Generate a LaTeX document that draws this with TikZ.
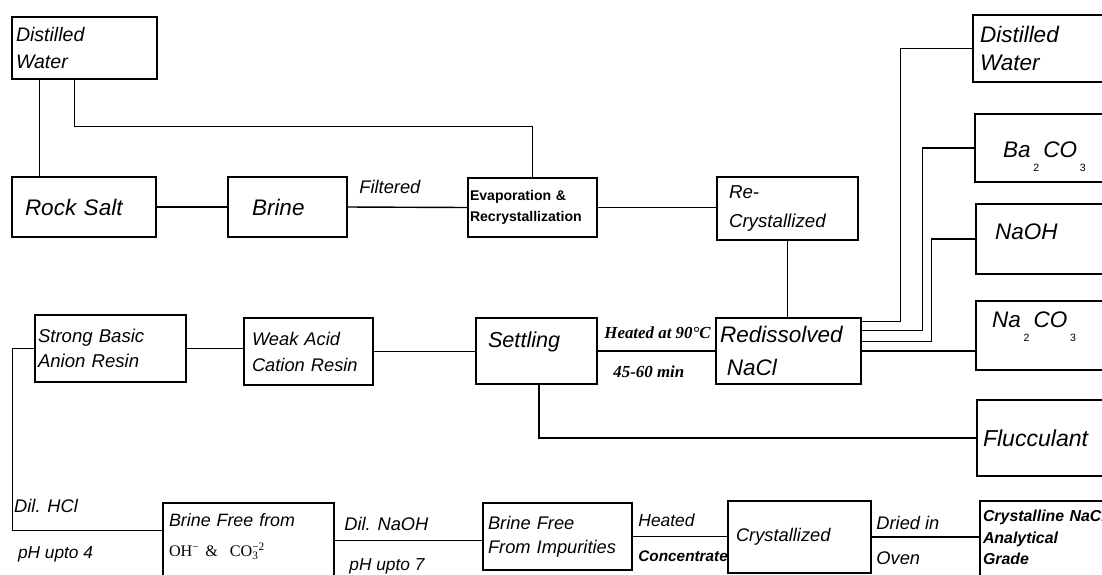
\documentclass[tikz,border=0pt]{standalone}
\usepackage{fontspec}
\setmainfont{Liberation Sans}
\newfontfamily\timesfont{Liberation Serif}
\usepackage{tikz}
\usetikzlibrary{positioning}
\newcommand\fsz[2]{\fontsize{#1}{#2}\selectfont}
\newcommand\lowsub[1]{\hspace{2pt}\raisebox{-9.5pt}{\upshape\fsz{7.5}{8}#1}\hspace{3pt}}
\tikzset{
  %% Process boxes
  procbox/.style={
    rectangle, draw=black, line width=1pt,
    align=left, inner ysep=0pt},
  %% box size in px: width, height, left indent of text
  wh/.style n args={3}{
    minimum height=#2*0.025cm,
    text width=(#1-2*#3)*0.025cm,
    inner xsep=#3*0.025cm},
  %% Labels on the connectors
  lbl/.style={anchor=base west, inner sep=0pt},
  %% Connectors
  conn/.style={line width=1pt, black},
}
\begin{document}
\begin{tikzpicture}[x=0.025cm, y=-0.025cm]
  \useasboundingbox (0,0) rectangle (1102,574);
  \clip (0,0) rectangle (1102,574);

  %% Top row
  \node[procbox, wh={145}{62}{4}, font=\fsz{13.9}{19}\itshape] (dwA) at (84.5,48)
        {Distilled\\Water};
  \node[procbox, wh={144}{60}{13}, font=\fsz{16}{19}\itshape] (rock) at (84,207)
        {Rock Salt};
  \node[procbox, wh={119}{60}{24}, font=\fsz{16}{19}\itshape] (brine) at (287.5,207)
        {Brine};
  \node[procbox, wh={129}{59}{2}, font=\fsz{10}{15}\bfseries] (evap) at (532.5,207.5)
        {Evaporation \&\\Recrystallization};
  \node[procbox, wh={141}{63}{12}, font=\fsz{13.3}{20.6}\itshape] (recry) at (787.5,208.5)
        {Re-\\Crystallized};

  %% Middle row
  \node[procbox, wh={151}{67}{3}, font=\fsz{13.2}{17.5}\itshape] (sba) at (110.5,348.5)
        {Strong Basic\\Anion Resin};
  \node[procbox, wh={129}{67}{8}, font=\fsz{13}{18.5}\itshape] (wac) at (308.5,351.5)
        {Weak Acid\\Cation Resin};
  \node[procbox, wh={121}{66}{12}, font=\fsz{15.4}{18}\itshape, text depth=15.6pt] (settle)
        at (536.5,351) {Settling};
  \node[procbox, wh={145}{66}{4}, font=\fsz{16}{23.5}\itshape] (redis) at (788.5,351)
        {Redissolved\\\hspace*{0.3em}NaCl};

  %% Additives (right column)
  \node[procbox, wh={157}{67}{7}, font=\fsz{16}{20}\itshape] (dwB) at (1051.5,48.5)
        {Distilled\\Water};
  \node[procbox, wh={155}{68}{28}, font=\fsz{16}{19}\itshape, text height=23.4pt] (baco)
        at (1052.5,148) {Ba\lowsub{2}CO\lowsub{3}};
  \node[procbox, wh={154}{70}{19}, font=\fsz{16}{19}\itshape, text depth=10pt] (naoh)
        at (1053,239) {NaOH};
  \node[procbox, wh={154}{69}{16}, font=\fsz{16}{19}\itshape, text depth=22pt] (naco)
        at (1053,335.5) {Na\lowsub{2}CO\lowsub{3}};
  \node[procbox, wh={153}{76}{6}, font=\fsz{16.4}{19}\itshape] (floc) at (1053.5,438)
        {Flucculant};

  %% Bottom row
  \node[procbox, wh={171}{87}{6}, font=\fsz{12.7}{21}\itshape, text depth=37pt] (bfree)
        at (248.5,546.5)
        {Brine Free from\\{\timesfont\upshape\fsz{11.5}{21}OH\textsuperscript{−} \&\ \ CO\rlap{\textsuperscript{−2}}\textsubscript{3}}};
  \node[procbox, wh={149}{67}{5}, font=\fsz{13}{17}\itshape] (bimp) at (557.5,536.5)
        {Brine Free\\From Impurities};
  \node[procbox, wh={143}{72}{8}, font=\fsz{13}{17}\itshape] (cryst) at (799.5,537)
        {Crystallized};
  \node[procbox, wh={150}{89}{3}, font=\fsz{11.3}{15.3}\bfseries\itshape, text depth=42pt]
        (grade) at (1055,545.5) {Crystalline NaCl\\Analytical\\Grade};

  %% Connectors, top row
  \draw[conn] ([xshift=0.7cm]dwA.south west) -- ([xshift=0.7cm]rock.north west);
  \draw[conn] ([xshift=1.575cm]dwA.south west) -- ++(0,47) -| (evap.north);
  \draw[conn] (rock.east) -- (brine.west);
  \draw[conn] (brine.east) -- node[lbl, pos=0, xshift=0.275cm, yshift=0.35cm,
        font=\fsz{13}{15}\itshape] {Filtered} (evap.west);
  \draw[conn] (evap.east) -- (evap.east -| recry.west);
  \draw[conn] (recry.south) -- (recry.south |- redis.north);

  %% Connectors, middle row
  \draw[conn] (sba.east) -- (sba.east -| wac.west);
  \draw[conn] (wac.east) -- (wac.east -| settle.west);
  \draw[conn] (settle.east) --
        node[lbl, pos=0, xshift=0.15cm, yshift=0.325cm,
             font=\timesfont\fsz{12}{14}\bfseries\itshape] {Heated at 90\textdegree C}
        node[lbl, pos=0, xshift=0.375cm, yshift=-0.65cm,
             font=\timesfont\fsz{12}{14}\bfseries\itshape] {45-60 min}
        (settle.east -| redis.west);
  \draw[conn] ([xshift=0.06cm]settle.south) |- (floc.west);

  %% Additives into the redissolved brine
  \draw[conn] ([yshift=-0.1cm]redis.north east) -- ++(39,0) |- (dwB.west);
  \draw[conn] ([yshift=-0.325cm]redis.north east) -- ++(61,0) |- (baco.west);
  \draw[conn] ([yshift=-0.6cm]redis.north east) -- ++(70,0) |- (naoh.west);
  \draw[conn] (redis.east) -- (redis.east -| naco.west);

  %% Connectors, bottom row
  \draw[conn] (sba.west) -- ++(-22,0) |-
        node[lbl, pos=0.5, xshift=0.03cm, yshift=0.45cm, font=\fsz{13}{15}\itshape] {Dil. HCl}
        node[lbl, pos=0.5, xshift=0.125cm, yshift=-0.7cm, font=\fsz{12.3}{15}\itshape] {pH upto 4}
        ([yshift=-0.7cm]bfree.north west);
  \draw[conn] ([yshift=-0.95cm]bfree.north east) --
        node[lbl, pos=0, xshift=0.225cm, yshift=0.25cm, font=\fsz{13}{15}\itshape] {Dil. NaOH}
        node[lbl, pos=0, xshift=0.35cm, yshift=-0.75cm, font=\fsz{12.3}{15}\itshape] {pH upto 7}
        ([yshift=-0.95cm]bimp.west |- bfree.north east);
  \draw[conn] (bimp.east) --
        node[lbl, pos=0, xshift=0.125cm, yshift=0.25cm, font=\fsz{12.4}{15}\itshape] {Heated}
        node[lbl, pos=0, xshift=0.125cm, yshift=-0.625cm,
             font=\fsz{10.9}{13}\bfseries\itshape] {Concentrate}
        (bimp.east -| cryst.west);
  \draw[conn] (cryst.east) --
        node[lbl, pos=0, xshift=0.1cm, yshift=0.2cm, font=\fsz{13}{15}\itshape] {Dried in}
        node[lbl, pos=0, xshift=0.1cm, yshift=-0.675cm, font=\fsz{13}{15}\itshape] {Oven}
        (cryst.east -| grade.west);

\end{tikzpicture}
\end{document}
